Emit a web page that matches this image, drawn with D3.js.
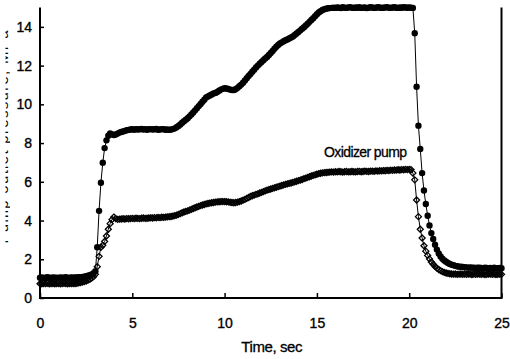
<!DOCTYPE html>
<html><head><meta charset="utf-8">
<script src="https://cdn.jsdelivr.net/npm/d3@7/dist/d3.min.js"></script>
<style>
body{margin:0;background:#fff}
svg{display:block}
text{font-family:"Liberation Sans",Arial,sans-serif;fill:#000}
</style>
</head><body>
<svg id="chart" width="510" height="359"></svg>
<script>
// Sampling interval of the recorded signals, seconds
const sampleStep = 0.1;

// Fuel (upper) pump outlet pressure, MPa, one value per 0.1 s from 0 to 25 s
const fuelPump = [
  1.05,1.06,1.04,1.05,1.07,1.05,1.04,1.06,1.05,1.05,
  1.04,1.06,1.05,1.05,1.07,1.04,1.05,1.06,1.05,1.06,
  1.06,1.07,1.08,1.09,1.10,1.12,1.15,1.18,1.22,1.28,
  1.38,2.62,4.50,5.95,6.98,7.74,8.14,8.38,8.50,8.45,
  8.42,8.44,8.49,8.54,8.57,8.60,8.63,8.66,8.68,8.70,
  8.71,8.69,8.72,8.70,8.71,8.73,8.70,8.72,8.69,8.71,
  8.72,8.70,8.71,8.73,8.69,8.70,8.72,8.71,8.69,8.70,
  8.68,8.70,8.72,8.76,8.82,8.88,8.96,9.05,9.13,9.21,
  9.28,9.38,9.48,9.58,9.69,9.80,9.91,10.02,10.13,10.24,
  10.35,10.41,10.46,10.51,10.56,10.59,10.64,10.70,10.76,10.80,
  10.83,10.82,10.79,10.76,10.74,10.74,10.78,10.85,10.93,11.02,
  11.12,11.23,11.35,11.46,11.57,11.68,11.79,11.90,12.00,12.10,
  12.19,12.28,12.37,12.45,12.55,12.65,12.76,12.87,12.97,13.06,
  13.14,13.20,13.26,13.31,13.35,13.40,13.45,13.50,13.58,13.66,
  13.74,13.82,13.90,13.98,14.07,14.16,14.26,14.36,14.45,14.55,
  14.65,14.74,14.81,14.87,14.91,14.94,14.96,14.97,14.98,14.99,
  14.98,15.00,14.99,14.97,15.01,14.99,14.98,15.00,15.02,14.99,
  14.98,15.00,14.99,15.01,14.98,14.99,15.00,14.97,14.99,15.01,
  15.00,14.98,14.99,15.01,15.00,14.98,14.99,15.00,15.02,14.99,
  14.98,15.00,15.01,14.99,14.98,15.00,14.99,15.01,15.00,14.99,
  15.00,14.99,14.98,13.67,10.91,8.90,7.70,6.45,5.55,4.85,
  4.25,3.75,3.35,3.05,2.75,2.50,2.30,2.14,2.03,1.94,
  1.87,1.81,1.76,1.72,1.69,1.66,1.64,1.62,1.61,1.60,
  1.59,1.58,1.57,1.58,1.56,1.57,1.55,1.56,1.57,1.55,
  1.54,1.56,1.55,1.53,1.55,1.54,1.56,1.53,1.54,1.55,
  1.54
];

// Oxidizer pump outlet pressure, MPa, one value per 0.1 s from 0 to 25 s
const oxidizerPump = [
  0.74,0.73,0.75,0.74,0.76,0.73,0.74,0.75,0.73,0.74,
  0.75,0.73,0.74,0.76,0.74,0.73,0.75,0.74,0.75,0.74,
  0.76,0.78,0.80,0.82,0.85,0.88,0.92,0.97,1.03,1.10,
  1.22,1.62,2.15,2.62,2.72,2.92,3.20,3.55,3.84,4.05,
  4.18,4.10,4.06,4.07,4.08,4.09,4.08,4.10,4.09,4.10,
  4.11,4.10,4.12,4.11,4.10,4.12,4.13,4.11,4.12,4.13,
  4.14,4.13,4.15,4.14,4.16,4.15,4.17,4.16,4.18,4.19,
  4.20,4.21,4.23,4.25,4.28,4.32,4.36,4.40,4.44,4.47,
  4.50,4.54,4.58,4.62,4.66,4.70,4.73,4.77,4.80,4.83,
  4.86,4.88,4.90,4.92,4.93,4.95,4.96,4.97,4.98,4.98,
  4.98,4.97,4.96,4.94,4.93,4.92,4.93,4.95,4.98,5.01,
  5.05,5.09,5.14,5.19,5.24,5.28,5.31,5.35,5.38,5.42,
  5.45,5.49,5.53,5.57,5.60,5.63,5.66,5.69,5.72,5.75,
  5.78,5.81,5.84,5.87,5.89,5.92,5.94,5.97,6.00,6.03,
  6.06,6.09,6.12,6.16,6.19,6.23,6.26,6.30,6.33,6.36,
  6.39,6.42,6.44,6.46,6.47,6.48,6.49,6.50,6.51,6.50,
  6.52,6.51,6.53,6.52,6.50,6.52,6.53,6.51,6.52,6.53,
  6.52,6.51,6.53,6.54,6.52,6.53,6.55,6.54,6.53,6.55,
  6.55,6.54,6.56,6.55,6.57,6.56,6.58,6.57,6.59,6.58,
  6.60,6.59,6.61,6.60,6.62,6.61,6.63,6.62,6.64,6.63,
  6.64,6.63,6.45,6.10,5.06,4.20,3.55,3.10,2.70,2.42,
  2.20,2.02,1.86,1.74,1.63,1.54,1.47,1.41,1.36,1.32,
  1.29,1.27,1.25,1.24,1.23,1.24,1.22,1.23,1.24,1.22,
  1.23,1.22,1.24,1.23,1.21,1.23,1.22,1.24,1.23,1.22,
  1.23,1.21,1.22,1.24,1.23,1.22,1.23,1.21,1.22,1.23,
  1.22
];

const xTicks = [0, 5, 10, 15, 20, 25];
const yTicks = [0, 2, 4, 6, 8, 10, 12, 14];
const xDomain = [0, 25];
const yDomain = [0, 15];
const xTitle = "Time, sec";
const yTitle = "Pump outlet pressure, MPa";
const seriesLabel = "Oxidizer pump";

const svg = d3.select("#chart");
const plotLeft = 40, plotRight = 501.5, plotTop = 7.5, plotBottom = 298;

const x = d3.scaleLinear().domain(xDomain).range([plotLeft, plotRight]);
const y = d3.scaleLinear().domain(yDomain).range([plotBottom, plotTop]);

const toPoints = arr => arr.map((v, i) => ({t: i * sampleStep, v}));
const fuelPts = toPoints(fuelPump);
const oxPts = toPoints(oxidizerPump);

// Axes
const xAxis = d3.axisBottom(x).tickValues(xTicks).tickSize(-5).tickSizeOuter(0).tickPadding(20).tickFormat(d3.format("d"));
const yAxis = d3.axisLeft(y).tickValues(yTicks).tickSize(-4).tickSizeOuter(0).tickPadding(8).tickFormat(d3.format("d"));

const gx = svg.append("g").attr("transform", `translate(0,${plotBottom})`).call(xAxis);
const gy = svg.append("g").attr("transform", `translate(${plotLeft},0)`).call(yAxis);
[gx, gy].forEach(g => {
  g.select(".domain").remove();
  g.selectAll(".tick line").attr("stroke", "#000").attr("stroke-width", 1.5);
  g.selectAll(".tick text").attr("font-size", 14).attr("font-family", "Liberation Sans, Arial, sans-serif")
    .attr("fill", "#000").attr("stroke", "#000").attr("stroke-width", 0.35);
});

// Frame: left, bottom, right
svg.append("path")
  .attr("d", `M${plotLeft},${y(yDomain[1])}V${plotBottom}H${plotRight}V${y(yDomain[1])}`)
  .attr("fill", "none").attr("stroke", "#000").attr("stroke-width", 2);

// Lines
const line = d3.line().x(d => x(d.t)).y(d => y(d.v));
svg.append("path").datum(oxPts).attr("d", line).attr("fill", "none").attr("stroke", "#000").attr("stroke-width", 1);
svg.append("path").datum(fuelPts).attr("d", line).attr("fill", "none").attr("stroke", "#000").attr("stroke-width", 1);

// Oxidizer markers: open diamonds
svg.append("g").selectAll("path").data(oxPts).join("path")
  .attr("transform", d => `translate(${x(d.t)},${y(d.v)})`)
  .attr("d", "M0,-3L3,0L0,3L-3,0Z")
  .attr("fill", "none").attr("stroke", "#000").attr("stroke-width", 1.3);

// Fuel markers: filled circles
svg.append("g").selectAll("circle").data(fuelPts).join("circle")
  .attr("cx", d => x(d.t)).attr("cy", d => y(d.v)).attr("r", 3.2)
  .attr("fill", "#000");

// Series label
svg.append("text").attr("x", 324).attr("y", 157)
  .attr("font-size", 14).attr("letter-spacing", "-0.6px")
  .attr("stroke", "#000").attr("stroke-width", 0.3)
  .text(seriesLabel);

// X title
svg.append("text").attr("x", (plotLeft + plotRight) / 2 + 1).attr("y", 352)
  .attr("text-anchor", "middle").attr("font-size", 15).attr("letter-spacing", "-0.4px")
  .attr("stroke", "#000").attr("stroke-width", 0.3)
  .text(xTitle);

// Y title (cropped at the left edge as in the original figure)
svg.append("clipPath").attr("id", "ycrop")
  .append("rect").attr("x", 5.5).attr("y", 0).attr("width", 4.5).attr("height", 359);
svg.append("g").attr("clip-path", "url(#ycrop)")
  .append("text")
  .attr("transform", `translate(8,137) rotate(-90)`)
  .attr("text-anchor", "middle").attr("font-size", 15)
  .attr("textLength", 213).attr("lengthAdjust", "spacing")
  .text(yTitle);
</script>
</body></html>
